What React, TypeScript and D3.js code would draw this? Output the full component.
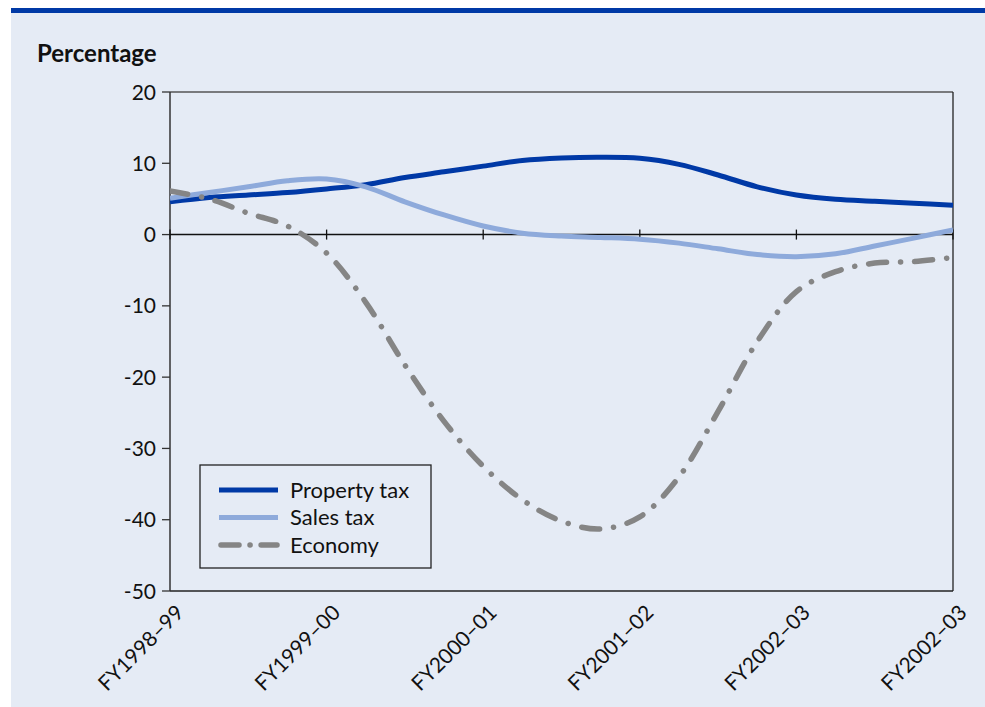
import React from "react";
import * as d3 from "d3";

const categories = ["FY1998–99", "FY1999–00", "FY2000–01", "FY2001–02", "FY2002–03", "FY2002–03"];
const yTicks = [20, 10, 0, -10, -20, -30, -40, -50];

// quarterly readings (4 per fiscal year, 21 points)
const propertyTax = [4.6, 5.2, 5.55, 5.9, 6.4, 7.0, 8.0, 8.8, 9.6, 10.4, 10.75, 10.85, 10.7, 9.85, 8.36, 6.7, 5.55, 4.95, 4.67, 4.4, 4.1];
const salesTax = [5.1, 5.9, 6.7, 7.55, 7.8, 6.7, 4.6, 2.75, 1.2, 0.2, -0.2, -0.4, -0.65, -1.2, -2.0, -2.8, -3.1, -2.7, -1.6, -0.5, 0.65];
const economy = [6.1, 5.0, 3.0, 1.2, -2.6, -9.5, -18.3, -26.2, -32.5, -37.2, -40.2, -41.3, -39.6, -34.0, -24.8, -15.0, -8.0, -5.2, -4.0, -3.8, -3.2];

const series = [
  { name: "Property tax", values: propertyTax, color: "#0039a6", width: 5, dash: null as string | null },
  { name: "Sales tax", values: salesTax, color: "#8eaadb", width: 5, dash: null as string | null },
  { name: "Economy", values: economy, color: "#858585", width: 5.5, dash: "18 14 0.1 14" },
];

const W = 985;
const H = 707;
const left = 170;
const right = 953;
const top = 92;
const bottom = 591;
const FONT = "Lato, 'Open Sans', sans-serif";

export default function App() {
  const x = d3.scaleLinear().domain([0, 20]).range([left, right]);
  const xTick = d3.scaleLinear().domain([0, categories.length - 1]).range([left, right]);
  const y = d3.scaleLinear().domain([-50, 20]).range([bottom, top]);
  const line = d3
    .line<number>()
    .x((_, i) => x(i))
    .y((d) => y(d))
    .curve(d3.curveCatmullRom.alpha(0.5));

  return (
    <svg
      width={W}
      height={H}
      style={{ position: "absolute", left: 0, top: 0, display: "block" }}
      fontFamily={FONT}
    >
      <rect x={0} y={0} width={W} height={H} fill="#ffffff" />
      <rect x={11} y={13} width={W - 11} height={H - 13} fill="#e5ebf5" />
      <rect x={11} y={8} width={W - 11} height={5} fill="#0039a6" />
      <text x={37} y={62} fontSize={24} fontWeight={700} fill="#111">
        Percentage
      </text>

      {/* plot frame */}
      <line x1={left} x2={right} y1={top} y2={top} stroke="#555" strokeWidth={1.5} />
      <line x1={right} x2={right} y1={top} y2={bottom} stroke="#222" strokeWidth={1.3} />
      <line x1={left} x2={right} y1={bottom} y2={bottom} stroke="#222" strokeWidth={1.5} />
      <line x1={left} x2={left} y1={top} y2={bottom} stroke="#333" strokeWidth={1.5} />

      {/* y ticks */}
      {yTicks.map((t) => (
        <g key={t}>
          <line x1={left - 8} x2={left} y1={y(t)} y2={y(t)} stroke="#333" strokeWidth={1.3} />
          <text x={left - 14} y={y(t)} dy="0.36em" textAnchor="end" fontSize={21} fill="#111">
            {t}
          </text>
        </g>
      ))}

      {/* zero line with ticks */}
      <line x1={left} x2={right} y1={y(0)} y2={y(0)} stroke="#111" strokeWidth={1.5} />
      {categories.map((c, i) => (
        <line key={"t" + i} x1={xTick(i)} x2={xTick(i)} y1={y(0) - 5} y2={y(0) + 5} stroke="#111" strokeWidth={1.3} />
      ))}

      {/* x labels */}
      {categories.map((c, i) => (
        <text
          key={"l" + i}
          transform={`translate(${xTick(i) + 15},${bottom + 23}) rotate(-45)`}
          textAnchor="end"
          fontSize={21}
          fill="#111"
        >
          {c}
        </text>
      ))}

      {/* series */}
      <g clipPath="url(#clip)">
        {series.map((s) => (
          <path
            key={s.name}
            d={line(s.values) || ""}
            fill="none"
            stroke={s.color}
            strokeWidth={s.width}
            strokeDasharray={s.dash || undefined}
            strokeLinecap={s.dash ? "round" : "butt"}
          />
        ))}
      </g>
      <defs>
        <clipPath id="clip">
          <rect x={left} y={top} width={right - left} height={bottom - top} />
        </clipPath>
      </defs>

      {/* legend */}
      <rect x={200} y={465} width={231} height={103} fill="#e5ebf5" stroke="#222" strokeWidth={1.3} />
      {series.map((s, i) => (
        <g key={"lg" + i}>
          <line
            x1={s.dash ? 221 : 219}
            x2={s.dash ? 277 : 278}
            y1={490 + i * 27.5}
            y2={490 + i * 27.5}
            stroke={s.color}
            strokeWidth={s.width}
            strokeDasharray={s.dash ? "18 11 0.1 11" : undefined}
            strokeLinecap={s.dash ? "round" : "butt"}
          />
          <text x={290} y={490 + i * 27.5} dy="0.35em" fontSize={22} fill="#111">
            {s.name}
          </text>
        </g>
      ))}
    </svg>
  );
}
